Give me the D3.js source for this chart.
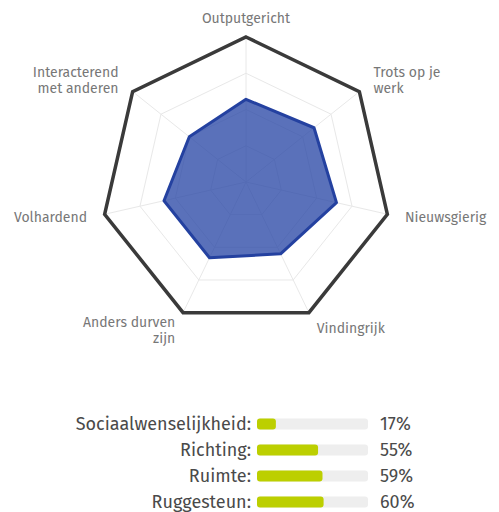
<!DOCTYPE html>
<html>
<head>
<meta charset="utf-8">
<script src="https://cdn.jsdelivr.net/npm/d3@7"></script>
<style>
  body { margin: 0; background: #fff; font-family: "Fira Sans", Lato, "Open Sans", sans-serif; }
</style>
</head>
<body>
<div id="container"></div>
<script>
// radar data (percentages)
const axes = ["Outputgericht", "Trots op je\nwerk", "Nieuwsgierig", "Vindingrijk", "Anders durven\nzijn", "Volhardend", "Interacterend\nmet anderen"];
const scores = [57, 60, 64, 55, 58, 58, 50];
const levels = [25, 50, 75, 100];

// bar data
const barLabels = ["Sociaalwenselijkheid:", "Richting:", "Ruimte:", "Ruggesteun:"];
const barValues = [17, 55, 59, 60];

const width = 499, height = 512;
const cx = 246, cy = 182, R = 145;

const svg = d3.select("#container").append("svg")
  .attr("width", width).attr("height", height);

const r = d3.scaleLinear().domain([0, 100]).range([0, R]);
const angle = d3.scaleLinear().domain([0, axes.length]).range([0, 2 * Math.PI]);

const pt = (i, v) => [cx + r(v) * Math.sin(angle(i)), cy - r(v) * Math.cos(angle(i))];
const line = d3.line().curve(d3.curveLinearClosed);

//grid rings
const grid = svg.append("g");
levels.slice(0, -1).forEach((lv) => {
  grid.append("path")
    .attr("d", line(axes.map((a, i) => pt(i, lv))))
    .attr("fill", "none").attr("stroke", "#e8e8e8").attr("stroke-width", 1);
});
//spokes
axes.forEach((a, i) => {
  const [x, y] = pt(i, 100);
  grid.append("line").attr("x1", cx).attr("y1", cy).attr("x2", x).attr("y2", y)
    .attr("stroke", "#e8e8e8").attr("stroke-width", 1);
});

//outer ring
svg.append("path")
  .attr("d", line(axes.map((a, i) => pt(i, 100))))
  .attr("fill", "none").attr("stroke", "#3a3a3a").attr("stroke-width", 3.5)
  .attr("stroke-linejoin", "miter");

//score polygon
svg.append("path")
  .attr("d", line(scores.map((s, i) => pt(i, s))))
  .attr("fill", "rgb(40,70,165)").attr("fill-opacity", 0.77)
  .attr("stroke", "#2441a0").attr("stroke-width", 3)
  .attr("stroke-linejoin", "round");

//axis labels
const lh = 16;
axes.forEach((a, i) => {
  const ang = angle(i);
  const lx = cx + (R + 18) * Math.sin(ang);
  const ly = cy - (R + 18) * Math.cos(ang);
  const s = Math.sin(ang);
  const anchor = Math.abs(s) < 0.1 ? "middle" : (s > 0 ? "start" : "end");
  const lines = a.split("\n");
  let y0;
  if (lines.length === 1) y0 = ly + 4;
  else if (Math.cos(ang) > 0) y0 = ly - 3;
  else y0 = ly - 2;
  const t = svg.append("text")
    .attr("text-anchor", anchor)
    .attr("font-size", 14).attr("fill", "#777");
  lines.forEach((l, k) => {
    t.append("tspan").attr("x", lx).attr("y", y0 + k * lh).text(l);
  });
});

//bars
const x = d3.scaleLinear().domain([0, 100]).range([0, 111]);
const y = d3.scalePoint().domain(barLabels).range([424, 502]);
const barH = 11;
const rows = svg.append("g").selectAll("g").data(barLabels).enter().append("g")
  .attr("transform", (d) => `translate(0,${y(d)})`);
rows.append("rect").attr("x", 257).attr("y", -barH / 2).attr("width", x(100)).attr("height", barH)
  .attr("rx", 3).attr("fill", "#eeeeee");
rows.append("rect").attr("x", 257).attr("y", -barH / 2).attr("width", (d, i) => x(barValues[i])).attr("height", barH)
  .attr("rx", 3).attr("fill", "#bccf00");
rows.append("text").attr("x", 251).attr("dy", "0.36em")
  .attr("text-anchor", "end").attr("font-size", 18).attr("fill", "#4a4a4a").text((d) => d);
rows.append("text").attr("x", 380).attr("dy", "0.36em")
  .attr("font-size", 18).attr("fill", "#4a4a4a").text((d, i) => barValues[i] + "%");
</script>
</body>
</html>
